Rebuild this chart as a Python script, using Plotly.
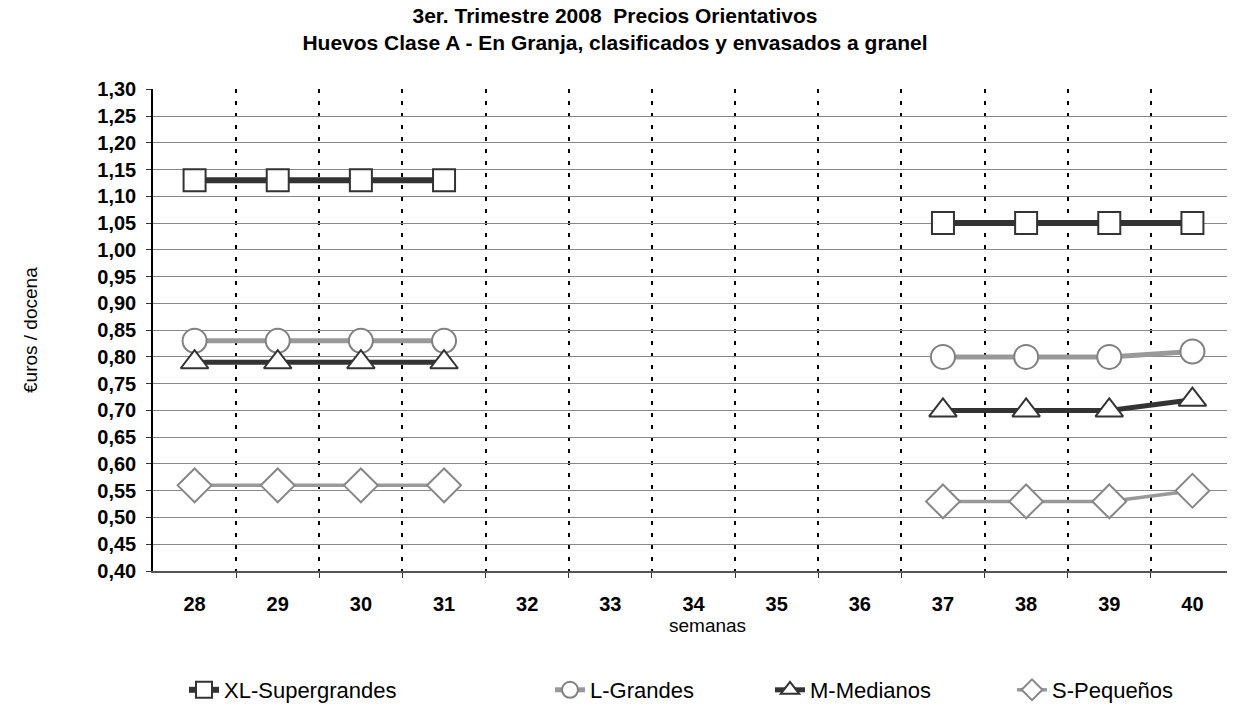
import plotly.graph_objects as go

weeks = [28, 29, 30, 31, 32, 33, 34, 35, 36, 37, 38, 39, 40]
xl_supergrandes = [1.13, 1.13, 1.13, 1.13, None, None, None, None, None, 1.05, 1.05, 1.05, 1.05]
l_grandes = [0.83, 0.83, 0.83, 0.83, None, None, None, None, None, 0.80, 0.80, 0.80, 0.81]
m_medianos = [0.79, 0.79, 0.79, 0.79, None, None, None, None, None, 0.70, 0.70, 0.70, 0.72]
s_pequenos = [0.56, 0.56, 0.56, 0.56, None, None, None, None, None, 0.53, 0.53, 0.53, 0.55]

series_names = ["XL-Supergrandes", "L-Grandes", "M-Medianos", "S-Pequeños"]
y_ticks = [round(0.40 + 0.05 * i, 2) for i in range(19)]
dividers = [w + 0.5 for w in weeks]

DARK = "#333333"
GRAY = "#999999"
FONT = "Liberation Sans, Arial, sans-serif"

styles = [
    dict(color=DARK, lw=6, symbol="square", size=22, mline=DARK),
    dict(color=GRAY, lw=5, symbol="circle", size=24, mline="#808080"),
    dict(color=DARK, lw=5, symbol="triangle-up", size=24, mline=DARK),
    dict(color=GRAY, lw=3.5, symbol="diamond", size=26, mline="#888888"),
]
data = [xl_supergrandes, l_grandes, m_medianos, s_pequenos]
legend_ids = ["legend", "legend2", "legend3", "legend4"]
legend_x_px = [184, 550, 770, 1012]

# page body margin offset (the figure is drawn 8px from the top-left of the page)
OFF = 8
W, H = 1235 - OFF, 712 - OFF
# plot area in reference pixel coordinates
PL, PR, PT, PB = 153, 1234, 89, 571
L = PL - OFF
T = PT - OFF
R = W - (PR - OFF)
B = H - (PB - OFF)
pw = PR - PL
ph = PB - PT

def px_x(x):
    return (x - PL) / pw

def px_y(y):
    return (PB - y) / ph

layout_legends = {}
for lid, xp in zip(legend_ids, legend_x_px):
    layout_legends[lid] = dict(
        x=px_x(xp), y=px_y(690), xanchor="left", yanchor="middle",
        orientation="h", font=dict(family=FONT, size=22, color="black"),
        bgcolor="rgba(0,0,0,0)", itemwidth=30,
    )

fig = go.Figure()
for name, vals, st, lid in zip(series_names, data, styles, legend_ids):
    fig.add_trace(go.Scatter(
        x=weeks, y=vals, name=name, mode="lines+markers",
        connectgaps=False,
        line=dict(color=st["color"], width=st["lw"]),
        marker=dict(symbol=st["symbol"], size=st["size"], color="white",
                    line=dict(color=st["mline"], width=2)),
        legend=lid,
    ))

fig.update_layout(
    width=W, height=H,
    margin=dict(l=L, r=R, t=T, b=B, autoexpand=False),
    paper_bgcolor="white", plot_bgcolor="white",
    separators=",.",
    showlegend=True,
    title=dict(
        text="<b>3er. Trimestre 2008  Precios Orientativos<br>Huevos Clase A - En Granja, clasificados y envasados a granel</b>",
        x=(615 - OFF) / W, xref="container", xanchor="center",
        y=1 - 15 / H, yanchor="top",
        font=dict(family=FONT, size=21, color="black"),
    ),
    xaxis=dict(
        range=[27.5, 40.5],
        tickmode="array", tickvals=weeks, ticktext=[str(w) for w in weeks],
        showgrid=False, ticks="",
        tickfont=dict(family=FONT, size=20, color="black", weight="bold"),
        showline=True, linecolor="#555555", linewidth=1.5,
        zeroline=False,
        minor=dict(tickmode="array", tickvals=dividers, showgrid=True,
                   gridcolor="black", gridwidth=2, griddash="4px,8px",
                   ticks="outside", ticklen=5, tickcolor="#333333", tickwidth=1),
        ticklabelstandoff=14,
    ),
    yaxis=dict(
        range=[0.40, 1.3005],
        tickmode="array", tickvals=y_ticks, tickformat=".2f",
        showgrid=True, gridcolor="#888888", gridwidth=1,
        ticks="outside", ticklen=5, tickcolor="#333333",
        tickfont=dict(family=FONT, size=20, color="black", weight="bold"),
        showline=True, linecolor="black", linewidth=1.5,
        zeroline=False,
        ticklabelstandoff=6,
    ),
    annotations=[
        dict(text="semanas", xref="paper", yref="paper",
             x=px_x(707), y=px_y(625), xanchor="center", yanchor="middle",
             showarrow=False, font=dict(family=FONT, size=19, color="black")),
        dict(text="€uros / docena", xref="paper", yref="paper",
             x=px_x(30), y=px_y(330), xanchor="center", yanchor="middle",
             textangle=-90, showarrow=False,
             font=dict(family=FONT, size=19, color="black")),
    ],
    **layout_legends,
)

fig.write_html("out.html")
